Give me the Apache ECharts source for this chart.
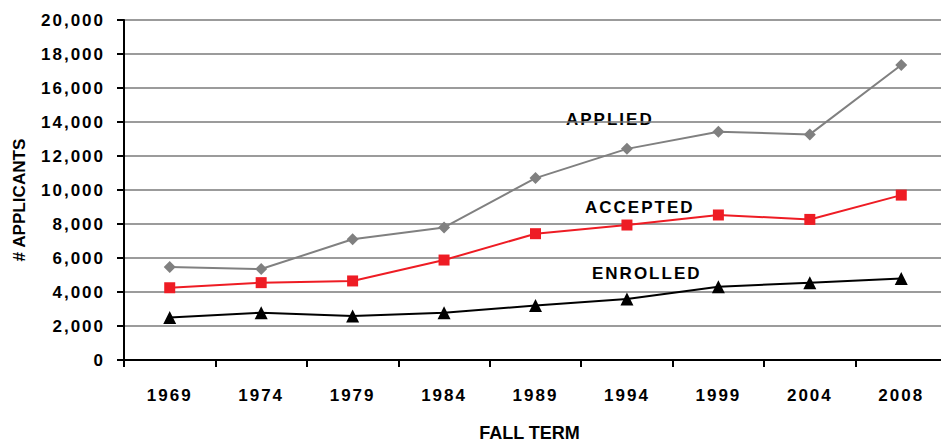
<!DOCTYPE html>
<html>
<head>
<meta charset="utf-8">
<script src="https://cdn.jsdelivr.net/npm/echarts@6/dist/echarts.min.js"></script>
<style>
    html, body {
        margin: 0;
        padding: 0;
        background: #fff;
    }

    #chart {
        width: 941px;
        height: 443px;
    }

    /* 刻度标签和系列标注字距加宽 */
    #chart text[style*="17px"] {
        letter-spacing: 2px;
    }
</style>
</head>
<body>
<div id="chart"></div>
<script>
// 秋季学期
const terms = ["1969", "1974", "1979", "1984", "1989", "1994", "1999", "2004", "2008"];
// 申请、录取、注册人数
const applied = [5470, 5350, 7100, 7800, 10700, 12420, 13430, 13270, 17350];
const accepted = [4250, 4550, 4650, 5880, 7430, 7940, 8530, 8270, 9700];
const enrolled = [2500, 2780, 2590, 2780, 3200, 3590, 4310, 4550, 4800];
const yTicks = { min: 0, max: 20000, step: 2000 };

const fontName = "'Liberation Sans', Arial, sans-serif";

const chart = echarts.init(document.getElementById("chart"), null, { renderer: "svg" });
chart.setOption({
    animation: false,
    grid: {
        left: 124,
        right: -6,
        top: 20,
        bottom: 83,
        outerBoundsMode: "none"
    },
    xAxis: {
        type: "category",
        data: terms,
        boundaryGap: true,
        name: "FALL TERM",
        nameLocation: "middle",
        nameGap: 64,
        nameTextStyle: {
            fontFamily: fontName,
            fontWeight: "bold",
            fontSize: 18,
            color: "#000",
            padding: [0, 12, 0, 0]
        },
        axisLine: { lineStyle: { color: "#000", width: 2 } },
        axisTick: { show: true, length: 7, lineStyle: { color: "#000", width: 2 } },
        axisLabel: {
            margin: 27,
            fontFamily: fontName,
            fontWeight: "bold",
            fontSize: 17,
            color: "#000"
        }
    },
    yAxis: {
        type: "value",
        min: yTicks.min,
        max: yTicks.max,
        interval: yTicks.step,
        name: "# APPLICANTS",
        nameLocation: "middle",
        nameGap: 96,
        nameTextStyle: {
            fontFamily: fontName,
            fontWeight: "bold",
            fontSize: 17.1,
            color: "#000",
            padding: [0, 20, 0, 0]
        },
        axisLine: { show: true, lineStyle: { color: "#000", width: 2 } },
        axisTick: { show: true, length: 7, lineStyle: { color: "#000", width: 2 } },
        axisLabel: {
            margin: 19,
            fontFamily: fontName,
            fontWeight: "bold",
            fontSize: 17,
            color: "#000",
            formatter: (v) => v.toLocaleString("en-US")
        },
        splitLine: { lineStyle: { color: "#7a7a7a", width: 1.5 } }
    },
    series: [
        {
            name: "APPLIED",
            type: "line",
            data: applied,
            symbol: "diamond",
            symbolSize: 12,
            itemStyle: { color: "#808080" },
            lineStyle: { color: "#808080", width: 2 }
        },
        {
            name: "ACCEPTED",
            type: "line",
            data: accepted,
            symbol: "rect",
            symbolSize: 11,
            itemStyle: { color: "#ee1c24" },
            lineStyle: { color: "#ee1c24", width: 2 }
        },
        {
            name: "ENROLLED",
            type: "line",
            data: enrolled,
            symbol: "triangle",
            symbolSize: 13,
            itemStyle: { color: "#000" },
            lineStyle: { color: "#000", width: 2 }
        }
    ],
    // 系列名称标注
    graphic: [
        { type: "text", x: 566, y: 119, style: { text: "APPLIED", font: "bold 17px " + fontName, fill: "#000", verticalAlign: "middle" } },
        { type: "text", x: 585, y: 207, style: { text: "ACCEPTED", font: "bold 17px " + fontName, fill: "#000", verticalAlign: "middle" } },
        { type: "text", x: 592, y: 273, style: { text: "ENROLLED", font: "bold 17px " + fontName, fill: "#000", verticalAlign: "middle" } }
    ]
});
</script>
</body>
</html>
